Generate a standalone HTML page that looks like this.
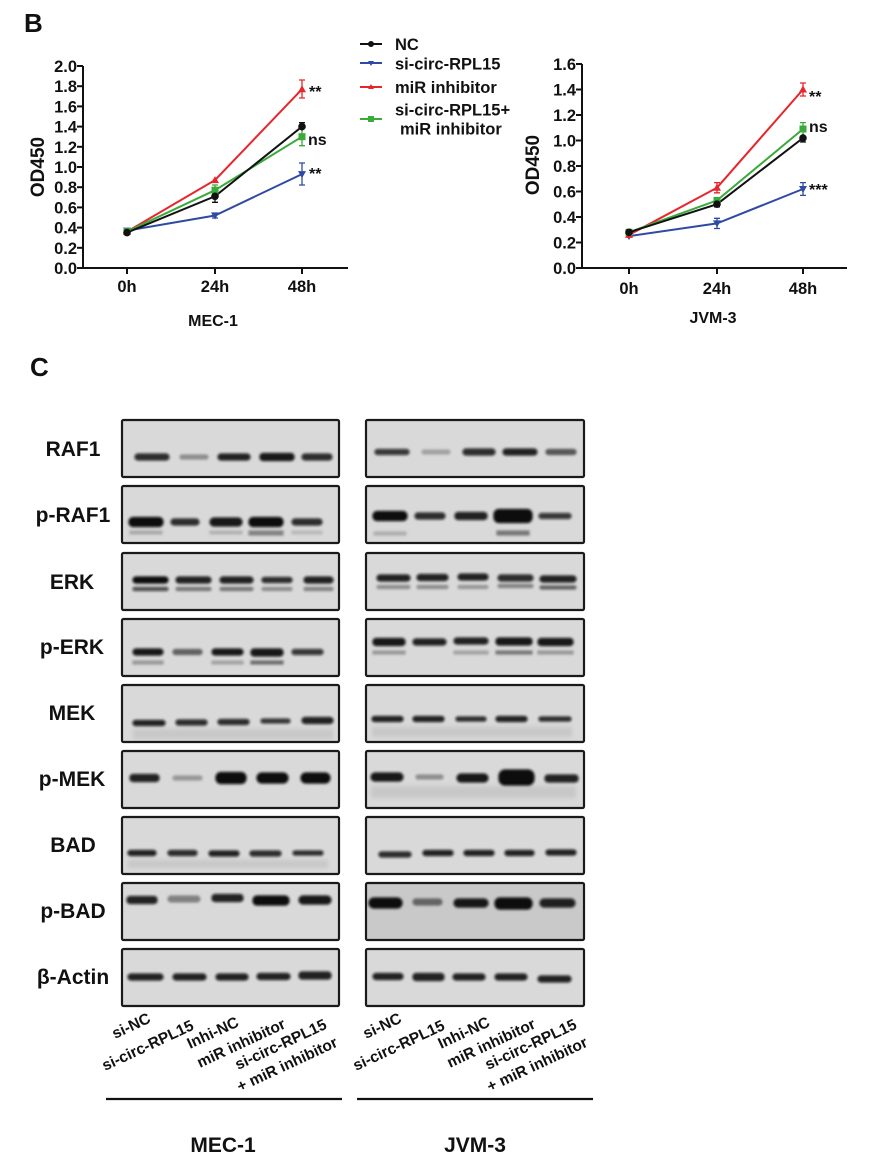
<!DOCTYPE html>
<html><head><meta charset="utf-8"><style>
html,body{margin:0;padding:0;background:#fff;}
svg{display:block;}
text{font-family:"Liberation Sans",Arial,sans-serif;font-weight:bold;fill:#111;}
</style></head><body>
<svg width="896" height="1175" viewBox="0 0 896 1175" xmlns="http://www.w3.org/2000/svg">
<defs>
<filter id="bl" x="-20%" y="-150%" width="140%" height="400%"><feGaussianBlur stdDeviation="1.4"/></filter>
<filter id="bl2" x="-20%" y="-100%" width="140%" height="300%"><feGaussianBlur stdDeviation="2"/></filter>
</defs>

<!-- Panel labels -->
<text x="24" y="32" font-size="26">B</text>
<text x="30" y="376" font-size="26">C</text>

<!-- ========== LEFT CHART (MEC-1) ========== -->
<g stroke="#111" stroke-width="2" fill="none">
<line x1="83" y1="66" x2="83" y2="269"/>
<line x1="82" y1="268" x2="348" y2="268"/>
<line x1="77" y1="268" x2="83" y2="268"/><line x1="77" y1="247.8" x2="83" y2="247.8"/>
<line x1="77" y1="227.6" x2="83" y2="227.6"/><line x1="77" y1="207.4" x2="83" y2="207.4"/>
<line x1="77" y1="187.2" x2="83" y2="187.2"/><line x1="77" y1="167" x2="83" y2="167"/>
<line x1="77" y1="146.8" x2="83" y2="146.8"/><line x1="77" y1="126.6" x2="83" y2="126.6"/>
<line x1="77" y1="106.4" x2="83" y2="106.4"/><line x1="77" y1="86.2" x2="83" y2="86.2"/>
<line x1="77" y1="66" x2="83" y2="66"/>
<line x1="127" y1="268" x2="127" y2="274"/><line x1="215" y1="268" x2="215" y2="274"/><line x1="302" y1="268" x2="302" y2="274"/>
</g>
<g font-size="16.5" text-anchor="end">
<text x="77" y="274">0.0</text><text x="77" y="253.8">0.2</text><text x="77" y="233.6">0.4</text>
<text x="77" y="213.4">0.6</text><text x="77" y="193.2">0.8</text><text x="77" y="173">1.0</text>
<text x="77" y="152.8">1.2</text><text x="77" y="132.6">1.4</text><text x="77" y="112.4">1.6</text>
<text x="77" y="92.2">1.8</text><text x="77" y="72">2.0</text>
</g>
<g font-size="16.5" text-anchor="middle">
<text x="127" y="292">0h</text><text x="215" y="292">24h</text><text x="302" y="292">48h</text>
<text x="213" y="326" font-size="16">MEC-1</text>
</g>
<text transform="translate(44,167) rotate(-90)" font-size="19" text-anchor="middle">OD450</text>

<g fill="none" stroke-width="2">
<polyline points="127,230.6 215,215.5 302,174.1" stroke="#2f4aa3"/>
<polyline points="127,231.6 215,180.1 302,89.2" stroke="#e8252b"/>
<polyline points="127,231.6 215,190.2 302,136.7" stroke="#3aaa3a"/>
<polyline points="127,232.6 215,196.3 302,126.6" stroke="#111"/>
</g>
<g stroke-width="1.3" fill="none">
<path d="M302,163 V185 M299,163 H305 M299,185 H305" stroke="#2f4aa3"/>
<path d="M215,213 V218 M212,213 H218 M212,218 H218" stroke="#2f4aa3"/>
<path d="M302,80 V98 M299,80 H305 M299,98 H305" stroke="#e8252b"/>
<path d="M302,127.7 V145.7 M299,127.7 H305 M299,145.7 H305" stroke="#3aaa3a"/>
<path d="M215,185 V195 M212,185 H218" stroke="#3aaa3a"/>
<path d="M302,122.6 V130.6 M299,122.6 H305" stroke="#111"/>
<path d="M215,190.3 V202.3 M212,202.3 H218" stroke="#111"/>
</g>
<g fill="#2f4aa3"><path d="M123,227.6 h8 l-4,7z"/><path d="M211,212.5 h8 l-4,7z"/><path d="M298,171.1 h8 l-4,7z"/></g>
<g fill="#e8252b"><path d="M123,234.6 h8 l-4,-7z"/><path d="M211,183.1 h8 l-4,-7z"/><path d="M298,92.2 h8 l-4,-7z"/></g>
<g fill="#3aaa3a"><rect x="123.5" y="228.1" width="7" height="7"/><rect x="211.5" y="186.7" width="7" height="7"/><rect x="298.5" y="133.2" width="7" height="7"/></g>
<g fill="#111"><circle cx="127" cy="232.6" r="3.8"/><circle cx="215" cy="196.3" r="3.8"/><circle cx="302" cy="126.6" r="3.8"/></g>
<g font-size="16">
<text x="309" y="97">**</text>
<text x="308" y="145">ns</text>
<text x="309" y="179">**</text>
</g>

<!-- ========== LEGEND ========== -->
<g stroke-width="2">
<line x1="360" y1="44" x2="382" y2="44" stroke="#111"/>
<line x1="360" y1="63" x2="382" y2="63" stroke="#2f4aa3"/>
<line x1="360" y1="87" x2="382" y2="87" stroke="#e8252b"/>
<line x1="360" y1="119" x2="382" y2="119" stroke="#3aaa3a"/>
</g>
<circle cx="371" cy="44" r="3" fill="#111"/>
<path d="M368,61 h6 l-3,5z" fill="#2f4aa3"/>
<path d="M368,89 h6 l-3,-5z" fill="#e8252b"/>
<rect x="368" y="116" width="6" height="6" fill="#3aaa3a"/>
<g font-size="16.5">
<text x="395" y="50">NC</text>
<text x="395" y="69.5">si-circ-RPL15</text>
<text x="395" y="93">miR inhibitor</text>
<text x="395" y="115.5">si-circ-RPL15+</text>
<text x="400" y="134.5">miR inhibitor</text>
</g>

<!-- ========== RIGHT CHART (JVM-3) ========== -->
<g stroke="#111" stroke-width="2" fill="none">
<line x1="582" y1="64" x2="582" y2="269"/>
<line x1="581" y1="268" x2="847" y2="268"/>
<line x1="576" y1="268" x2="582" y2="268"/><line x1="576" y1="242.5" x2="582" y2="242.5"/>
<line x1="576" y1="217" x2="582" y2="217"/><line x1="576" y1="191.5" x2="582" y2="191.5"/>
<line x1="576" y1="166" x2="582" y2="166"/><line x1="576" y1="140.5" x2="582" y2="140.5"/>
<line x1="576" y1="115" x2="582" y2="115"/><line x1="576" y1="89.5" x2="582" y2="89.5"/>
<line x1="576" y1="64" x2="582" y2="64"/>
<line x1="629" y1="268" x2="629" y2="274"/><line x1="717" y1="268" x2="717" y2="274"/><line x1="803" y1="268" x2="803" y2="274"/>
</g>
<g font-size="16.5" text-anchor="end">
<text x="576" y="274">0.0</text><text x="576" y="248.5">0.2</text><text x="576" y="223">0.4</text>
<text x="576" y="197.5">0.6</text><text x="576" y="172">0.8</text><text x="576" y="146.5">1.0</text>
<text x="576" y="121">1.2</text><text x="576" y="95.5">1.4</text><text x="576" y="70">1.6</text>
</g>
<g font-size="16.5" text-anchor="middle">
<text x="629" y="294">0h</text><text x="717" y="294">24h</text><text x="803" y="294">48h</text>
<text x="713" y="323" font-size="16">JVM-3</text>
</g>
<text transform="translate(539,165) rotate(-90)" font-size="19" text-anchor="middle">OD450</text>

<g fill="none" stroke-width="2">
<polyline points="629,236.1 717,223.4 803,189" stroke="#2f4aa3"/>
<polyline points="629,234.9 717,187.7 803,89.5" stroke="#e8252b"/>
<polyline points="629,232.3 717,200.4 803,129" stroke="#3aaa3a"/>
<polyline points="629,232.3 717,204.2 803,138" stroke="#111"/>
</g>
<g stroke-width="1.3" fill="none">
<path d="M803,182.6 V195.4 M800,182.6 H806 M800,195.4 H806" stroke="#2f4aa3"/>
<path d="M717,218.3 V228.5 M714,218.3 H720 M714,228.5 H720" stroke="#2f4aa3"/>
<path d="M803,83 V96 M800,83 H806 M800,96 H806" stroke="#e8252b"/>
<path d="M717,182.6 V192.8 M714,182.6 H720 M714,192.8 H720" stroke="#e8252b"/>
<path d="M803,122.6 V135.4 M800,122.6 H806" stroke="#3aaa3a"/>
<path d="M803,134 V142 M800,142 H806" stroke="#111"/>
<path d="M717,201.6 V206.8 M714,206.8 H720" stroke="#111"/>
</g>
<g fill="#2f4aa3"><path d="M625,233.1 h8 l-4,7z"/><path d="M713,220.4 h8 l-4,7z"/><path d="M799,186 h8 l-4,7z"/></g>
<g fill="#e8252b"><path d="M625,237.9 h8 l-4,-7z"/><path d="M713,190.7 h8 l-4,-7z"/><path d="M799,92.5 h8 l-4,-7z"/></g>
<g fill="#3aaa3a"><rect x="625.5" y="228.8" width="7" height="7"/><rect x="713.5" y="196.9" width="7" height="7"/><rect x="799.5" y="125.5" width="7" height="7"/></g>
<g fill="#111"><circle cx="629" cy="232.3" r="3.8"/><circle cx="717" cy="204.2" r="3.8"/><circle cx="803" cy="138" r="3.8"/></g>
<g font-size="16">
<text x="809" y="102">**</text>
<text x="809" y="132">ns</text>
<text x="809" y="195">***</text>
</g>

<!-- ========== WESTERN BLOTS ========== -->
<g fill="#d9d9d9">
<rect x="122" y="420" width="217" height="57"/><rect x="366" y="420" width="218" height="57"/>
<rect x="122" y="486" width="217" height="57"/><rect x="366" y="486" width="218" height="57"/>
<rect x="122" y="553" width="217" height="57"/><rect x="366" y="553" width="218" height="57"/>
<rect x="122" y="619" width="217" height="57"/><rect x="366" y="619" width="218" height="57"/>
<rect x="122" y="685" width="217" height="57"/><rect x="366" y="685" width="218" height="57"/>
<rect x="122" y="751" width="217" height="57"/><rect x="366" y="751" width="218" height="57"/>
<rect x="122" y="817" width="217" height="57"/><rect x="366" y="817" width="218" height="57"/>
<rect x="122" y="883" width="217" height="57"/><rect x="366" y="883" width="218" height="57" fill="#c9c9c9"/>
<rect x="122" y="949" width="217" height="57"/><rect x="366" y="949" width="218" height="57"/>
</g>

<g fill="#0b0b0b" stroke="#0b0b0b" stroke-width="1.2" filter="url(#bl)">
<!-- RAF1 L -->
<rect x="135" y="454" width="34" height="6" rx="3" opacity=".85"/>
<rect x="180" y="455" width="28" height="4" rx="2" opacity=".35"/>
<rect x="218" y="454" width="32" height="6" rx="3" opacity=".9"/>
<rect x="260" y="453.5" width="34" height="7" rx="3" opacity=".95"/>
<rect x="302" y="454" width="30" height="6" rx="3" opacity=".85"/>
<!-- RAF1 R -->
<rect x="375" y="449.5" width="34" height="5" rx="2.5" opacity=".8"/>
<rect x="422" y="450" width="28" height="4" rx="2" opacity=".25"/>
<rect x="463" y="449" width="32" height="6" rx="3" opacity=".85"/>
<rect x="503" y="449" width="34" height="6" rx="3" opacity=".9"/>
<rect x="546" y="449.5" width="30" height="5" rx="2.5" opacity=".6"/>
<!-- p-RAF1 L -->
<rect x="129" y="517.5" width="34" height="9" rx="4" opacity="1"/>
<rect x="171" y="519" width="28" height="6" rx="3" opacity=".85"/>
<rect x="210" y="518" width="32" height="8" rx="4" opacity=".95"/>
<rect x="249" y="517.5" width="34" height="9" rx="4" opacity="1"/>
<rect x="292" y="519" width="30" height="6" rx="3" opacity=".85"/>
<rect x="130" y="531" width="32" height="3" opacity=".22"/>
<rect x="210" y="531" width="32" height="3" opacity=".18"/>
<rect x="249" y="531" width="34" height="4" opacity=".4"/>
<rect x="292" y="531" width="30" height="3" opacity=".15"/>
<!-- p-RAF1 R -->
<rect x="373" y="511.5" width="34" height="9" rx="4" opacity="1"/>
<rect x="415" y="513" width="30" height="6" rx="3" opacity=".85"/>
<rect x="455" y="512.5" width="32" height="7" rx="3" opacity=".9"/>
<rect x="494" y="509.5" width="38" height="13" rx="5" opacity="1"/>
<rect x="539" y="513.5" width="32" height="5" rx="2.5" opacity=".8"/>
<rect x="374" y="532" width="32" height="3" opacity=".2"/>
<rect x="497" y="531" width="32" height="4" opacity=".45"/>
<!-- ERK L -->
<rect x="133" y="577" width="35" height="6" rx="3" opacity="1"/>
<rect x="176" y="577" width="35" height="6" rx="3" opacity=".9"/>
<rect x="220" y="577" width="33" height="6" rx="3" opacity=".9"/>
<rect x="262" y="577.5" width="30" height="5" rx="2.5" opacity=".85"/>
<rect x="304" y="577" width="29" height="6" rx="3" opacity=".9"/>
<rect x="133" y="587.5" width="35" height="3" rx="1.5" opacity=".7"/>
<rect x="176" y="587.5" width="35" height="3" rx="1.5" opacity=".45"/>
<rect x="220" y="587.5" width="33" height="3" rx="1.5" opacity=".45"/>
<rect x="262" y="587.5" width="30" height="3" rx="1.5" opacity=".35"/>
<rect x="304" y="587.5" width="29" height="3" rx="1.5" opacity=".4"/>
<!-- ERK R -->
<rect x="377" y="575" width="33" height="6" rx="3" opacity=".9"/>
<rect x="417" y="574.5" width="31" height="6" rx="3" opacity=".9"/>
<rect x="458" y="574" width="30" height="6" rx="3" opacity=".9"/>
<rect x="498" y="575" width="35" height="6" rx="3" opacity=".85"/>
<rect x="540" y="576" width="36" height="6" rx="3" opacity=".9"/>
<rect x="377" y="585.5" width="33" height="3" rx="1.5" opacity=".35"/>
<rect x="417" y="585.5" width="31" height="3" rx="1.5" opacity=".35"/>
<rect x="458" y="585.5" width="30" height="3" rx="1.5" opacity=".3"/>
<rect x="498" y="584.5" width="35" height="3" rx="1.5" opacity=".4"/>
<rect x="540" y="586" width="36" height="3" rx="1.5" opacity=".55"/>
<!-- p-ERK L -->
<rect x="133" y="649" width="30" height="6" rx="3" opacity=".95"/>
<rect x="173" y="649.5" width="29" height="5" rx="2.5" opacity=".55"/>
<rect x="212" y="649" width="31" height="6" rx="3" opacity=".95"/>
<rect x="251" y="649" width="32" height="7" rx="3" opacity=".95"/>
<rect x="292" y="649.5" width="31" height="5" rx="2.5" opacity=".8"/>
<rect x="133" y="661" width="30" height="3" opacity=".3"/>
<rect x="212" y="661" width="31" height="3" opacity=".25"/>
<rect x="251" y="661" width="32" height="3" opacity=".5"/>
<!-- p-ERK R -->
<rect x="373" y="638.5" width="32" height="7" rx="3" opacity=".95"/>
<rect x="413" y="639" width="33" height="6" rx="3" opacity=".9"/>
<rect x="454" y="638" width="34" height="6" rx="3" opacity=".9"/>
<rect x="496" y="638" width="36" height="7" rx="3" opacity=".95"/>
<rect x="538" y="638.5" width="35" height="7" rx="3" opacity=".95"/>
<rect x="373" y="651" width="32" height="3" opacity=".3"/>
<rect x="454" y="651" width="34" height="3" opacity=".25"/>
<rect x="496" y="651" width="36" height="3" opacity=".45"/>
<rect x="538" y="651" width="35" height="3" opacity=".3"/>
<!-- MEK L -->
<rect x="133" y="720.5" width="32" height="5" rx="2.5" opacity=".9"/>
<rect x="176" y="720" width="31" height="5" rx="2.5" opacity=".85"/>
<rect x="218" y="719.5" width="31" height="5" rx="2.5" opacity=".85"/>
<rect x="261" y="719" width="29" height="4" rx="2" opacity=".8"/>
<rect x="302" y="717.5" width="31" height="6" rx="3" opacity=".9"/>
<!-- MEK R -->
<rect x="372" y="716.5" width="31" height="5" rx="2.5" opacity=".9"/>
<rect x="413" y="716.5" width="31" height="5" rx="2.5" opacity=".9"/>
<rect x="456" y="717" width="30" height="4" rx="2" opacity=".85"/>
<rect x="496" y="716.5" width="31" height="5" rx="2.5" opacity=".9"/>
<rect x="539" y="717" width="32" height="4" rx="2" opacity=".85"/>
<!-- p-MEK L -->
<rect x="130" y="774.5" width="29" height="7" rx="3" opacity=".9"/>
<rect x="173" y="776" width="29" height="4" rx="2" opacity=".3"/>
<rect x="216" y="772.5" width="30" height="11" rx="5" opacity="1"/>
<rect x="257" y="773" width="31" height="10" rx="5" opacity="1"/>
<rect x="301" y="773" width="29" height="10" rx="5" opacity="1"/>
<!-- p-MEK R -->
<rect x="371" y="773" width="32" height="8" rx="4" opacity=".95"/>
<rect x="416" y="775" width="27" height="4" rx="2" opacity=".35"/>
<rect x="457" y="774" width="31" height="8" rx="4" opacity=".95"/>
<rect x="499" y="770" width="35" height="15" rx="6" opacity="1"/>
<rect x="545" y="775" width="33" height="7" rx="3" opacity=".9"/>
<!-- BAD L -->
<rect x="128" y="850.5" width="28" height="5" rx="2.5" opacity=".9"/>
<rect x="168" y="850.5" width="29" height="5" rx="2.5" opacity=".85"/>
<rect x="209" y="851" width="30" height="5" rx="2.5" opacity=".9"/>
<rect x="250" y="851" width="31" height="5" rx="2.5" opacity=".85"/>
<rect x="293" y="851" width="30" height="4" rx="2" opacity=".85"/>
<!-- BAD R -->
<rect x="379" y="852" width="32" height="5" rx="2.5" opacity=".85"/>
<rect x="423" y="850.5" width="30" height="5" rx="2.5" opacity=".9"/>
<rect x="464" y="850.5" width="30" height="5" rx="2.5" opacity=".9"/>
<rect x="505" y="850.5" width="29" height="5" rx="2.5" opacity=".9"/>
<rect x="546" y="850" width="30" height="5" rx="2.5" opacity=".9"/>
<!-- p-BAD L -->
<rect x="127" y="896.5" width="30" height="7" rx="3" opacity=".9"/>
<rect x="168" y="896" width="32" height="6" rx="3" opacity=".4"/>
<rect x="212" y="894.5" width="31" height="7" rx="3" opacity=".9"/>
<rect x="253" y="896" width="36" height="9" rx="4" opacity="1"/>
<rect x="299" y="896" width="32" height="8" rx="4" opacity=".95"/>
<!-- p-BAD R -->
<rect x="369" y="898" width="33" height="10" rx="5" opacity="1"/>
<rect x="413" y="899" width="29" height="6" rx="3" opacity=".5"/>
<rect x="454" y="899" width="34" height="8" rx="4" opacity=".95"/>
<rect x="495" y="898" width="37" height="11" rx="5" opacity="1"/>
<rect x="540" y="899" width="35" height="8" rx="4" opacity=".9"/>
<!-- Actin L -->
<rect x="128" y="974" width="35" height="6" rx="3" opacity=".9"/>
<rect x="173" y="974" width="33" height="6" rx="3" opacity=".9"/>
<rect x="216" y="974" width="32" height="6" rx="3" opacity=".9"/>
<rect x="257" y="973.5" width="33" height="6" rx="3" opacity=".9"/>
<rect x="299" y="972" width="32" height="7" rx="3" opacity=".9"/>
<!-- Actin R -->
<rect x="373" y="973.5" width="30" height="6" rx="3" opacity=".9"/>
<rect x="413" y="973.5" width="31" height="7" rx="3" opacity=".9"/>
<rect x="453" y="974" width="32" height="6" rx="3" opacity=".9"/>
<rect x="495" y="974" width="32" height="6" rx="3" opacity=".9"/>
<rect x="538" y="976" width="33" height="6" rx="3" opacity=".9"/>
</g>
<g fill="#000" filter="url(#bl2)" opacity=".08">
<rect x="133" y="729" width="200" height="10"/>
<rect x="372" y="727" width="200" height="10"/>
<rect x="371" y="786" width="205" height="12"/>
<rect x="128" y="860" width="200" height="8"/>
</g>

<g fill="none" stroke="#1a1a1a" stroke-width="2.2">
<rect x="122" y="420" width="217" height="57" rx="1.5"/><rect x="366" y="420" width="218" height="57" rx="1.5"/>
<rect x="122" y="486" width="217" height="57" rx="1.5"/><rect x="366" y="486" width="218" height="57" rx="1.5"/>
<rect x="122" y="553" width="217" height="57" rx="1.5"/><rect x="366" y="553" width="218" height="57" rx="1.5"/>
<rect x="122" y="619" width="217" height="57" rx="1.5"/><rect x="366" y="619" width="218" height="57" rx="1.5"/>
<rect x="122" y="685" width="217" height="57" rx="1.5"/><rect x="366" y="685" width="218" height="57" rx="1.5"/>
<rect x="122" y="751" width="217" height="57" rx="1.5"/><rect x="366" y="751" width="218" height="57" rx="1.5"/>
<rect x="122" y="817" width="217" height="57" rx="1.5"/><rect x="366" y="817" width="218" height="57" rx="1.5"/>
<rect x="122" y="883" width="217" height="57" rx="1.5"/><rect x="366" y="883" width="218" height="57" rx="1.5"/>
<rect x="122" y="949" width="217" height="57" rx="1.5"/><rect x="366" y="949" width="218" height="57" rx="1.5"/>
</g>

<g font-size="21" text-anchor="middle">
<text x="73" y="456">RAF1</text>
<text x="73" y="522">p-RAF1</text>
<text x="72" y="589">ERK</text>
<text x="72" y="654">p-ERK</text>
<text x="72" y="720">MEK</text>
<text x="72" y="786">p-MEK</text>
<text x="73" y="852">BAD</text>
<text x="73" y="918">p-BAD</text>
<text x="73" y="984">β-Actin</text>
</g>

<g font-size="15.5">
<text transform="translate(115,1039) rotate(-25)">si-NC</text>
<text transform="translate(105,1071) rotate(-25)">si-circ-RPL15</text>
<text transform="translate(190,1049) rotate(-25)">Inhi-NC</text>
<text transform="translate(200,1068) rotate(-25)">miR inhibitor</text>
<text transform="translate(238,1070) rotate(-25)">si-circ-RPL15</text>
<text transform="translate(240,1092) rotate(-25)">+ miR inhibitor</text>
<text transform="translate(366,1039) rotate(-25)">si-NC</text>
<text transform="translate(356,1071) rotate(-25)">si-circ-RPL15</text>
<text transform="translate(441,1049) rotate(-25)">Inhi-NC</text>
<text transform="translate(450,1068) rotate(-25)">miR inhibitor</text>
<text transform="translate(488,1070) rotate(-25)">si-circ-RPL15</text>
<text transform="translate(490,1092) rotate(-25)">+ miR inhibitor</text>
</g>

<line x1="106" y1="1099" x2="342" y2="1099" stroke="#111" stroke-width="2.2"/>
<line x1="357" y1="1099" x2="593" y2="1099" stroke="#111" stroke-width="2.2"/>
<g font-size="21" text-anchor="middle">
<text x="223" y="1152">MEC-1</text>
<text x="475" y="1152">JVM-3</text>
</g>
</svg>
</body></html>
